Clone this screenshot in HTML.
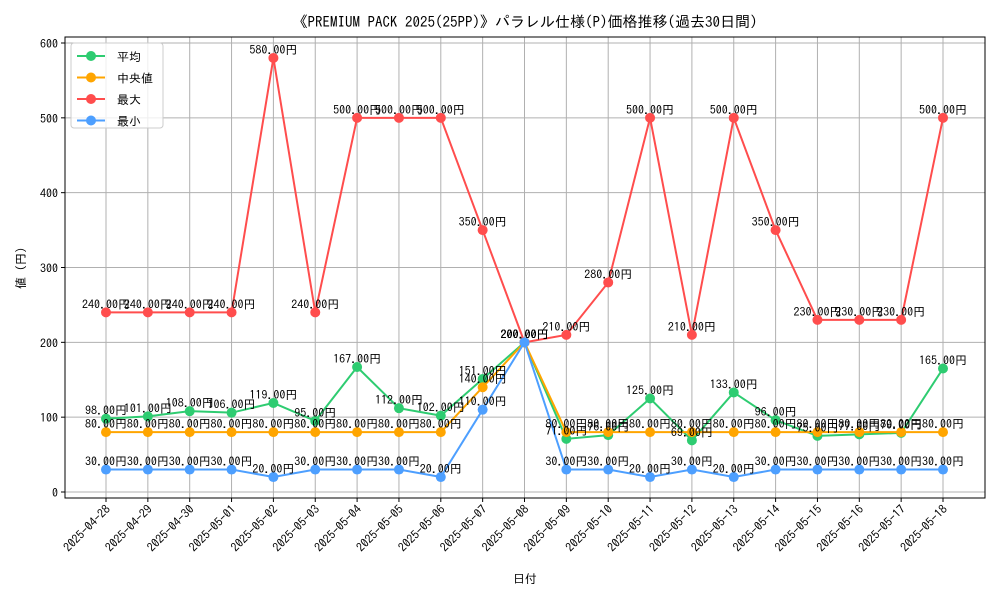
<!DOCTYPE html>
<html><head><meta charset="utf-8"><style>
body{margin:0;background:#fff}
svg text{font-family:"IPAGothic","Liberation Sans","Noto Sans CJK JP",sans-serif}
</style></head><body>
<svg id="c" width="1000" height="600" xmlns="http://www.w3.org/2000/svg">
<rect width="1000" height="600" fill="#fff"/>
<text x="525" y="27" font-size="15" text-anchor="middle">《PREMIUM PACK 2025(25PP)》パラレル仕様(P)価格推移(過去30日間)</text>
<g id="grid"></g><g id="series"></g><g id="labels"></g>
<rect x="65" y="37" width="920" height="461" fill="none" stroke="#000" stroke-width="1"/>
<text x="525" y="583" font-size="12" text-anchor="middle">日付</text>
<text transform="translate(25,268) rotate(-90)" font-size="12" text-anchor="middle">値 (円)</text>
<g>
<rect x="71" y="43" width="92" height="85" rx="3" fill="#fff" fill-opacity="0.8" stroke="#ccc"/>
<g id="leg"></g></g>
</svg>
<script>
const dates=["2025-04-28","2025-04-29","2025-04-30","2025-05-01","2025-05-02","2025-05-03","2025-05-04","2025-05-05","2025-05-06","2025-05-07","2025-05-08","2025-05-09","2025-05-10","2025-05-11","2025-05-12","2025-05-13","2025-05-14","2025-05-15","2025-05-16","2025-05-17","2025-05-18"];
const avgVals=[98,101,108,106,119,95,167,112,102,151,200,71,76,125,69,133,96,75,77,79,165];
const medVals=[80,80,80,80,80,80,80,80,80,140,200,80,80,80,80,80,80,80,80,80,80];
const maxVals=[240,240,240,240,580,240,500,500,500,350,200,210,280,500,210,500,350,230,230,230,500];
const minVals=[30,30,30,30,20,30,30,30,20,110,200,30,30,20,30,20,30,30,30,30,30];
const yTicks=[0,100,200,300,400,500,600];
const seriesNames=["平均","中央値","最大","最小"];
const NS="http://www.w3.org/2000/svg";
const xs=i=>106+i*(943-106)/(dates.length-1);
const ys=v=>492-v*(492-43)/600;
function mk(t,a,p){const e=document.createElementNS(NS,t);for(const k in a)e.setAttribute(k,a[k]);p.appendChild(e);return e;}
const grid=document.getElementById('grid');
yTicks.forEach(t=>{
 const l=mk('line',{x1:65,x2:985,y1:ys(t),y2:ys(t),stroke:'#b0b0b0','stroke-width':1},grid);
 
 
 mk('line',{x1:61,x2:65,y1:ys(t),y2:ys(t),stroke:'#000'},grid);
 const tx=mk('text',{x:58,y:ys(t)+5,'font-size':12,'text-anchor':'end'},grid);tx.textContent=t;
 
 
});
dates.forEach((d,i)=>{
 const l=mk('line',{x1:xs(i),x2:xs(i),y1:37,y2:498,stroke:'#b0b0b0','stroke-width':1},grid);
 
 
 mk('line',{x1:xs(i),x2:xs(i),y1:498,y2:502,stroke:'#000'},grid);
 const tx=mk('text',{transform:`translate(${xs(i)+5},${510}) rotate(-45)`,'font-size':12,'text-anchor':'end'},grid);tx.textContent=d;
 
 
});
const sets=[[avgVals,'#2ecc71','avg'],[medVals,'#ffa500','median'],[maxVals,'#ff4d4d','max'],[minVals,'#4d9fff','min']];
const sg=document.getElementById('series'),lg=document.getElementById('labels');
sets.forEach(([vals,col,nm])=>{
 const pl=mk('polyline',{points:vals.map((v,i)=>xs(i)+','+ys(v)).join(' '),fill:'none',stroke:col,'stroke-width':2},sg);
 
 
 vals.forEach((v,i)=>{
  const c=mk('circle',{cx:xs(i),cy:ys(v),r:5,fill:col},sg);
  
  
  const t=mk('text',{x:xs(i),y:ys(v)-4,'font-size':12,'text-anchor':'middle'},lg);t.textContent=v.toFixed(2)+'円';
  
  
 });
});
const leg=document.getElementById('leg');
sets.forEach(([v,col,nm],k)=>{
 const y=56+k*21.5;
 const g=mk('g',{},leg);
 
 
 mk('line',{x1:77,x2:105,y1:y,y2:y,stroke:col,'stroke-width':2},g);
 mk('circle',{cx:91,cy:y,r:5,fill:col},g);
 const t=mk('text',{x:117,y:y+5,'font-size':12},g);t.textContent=seriesNames[k];
});
</script>
</body></html>
